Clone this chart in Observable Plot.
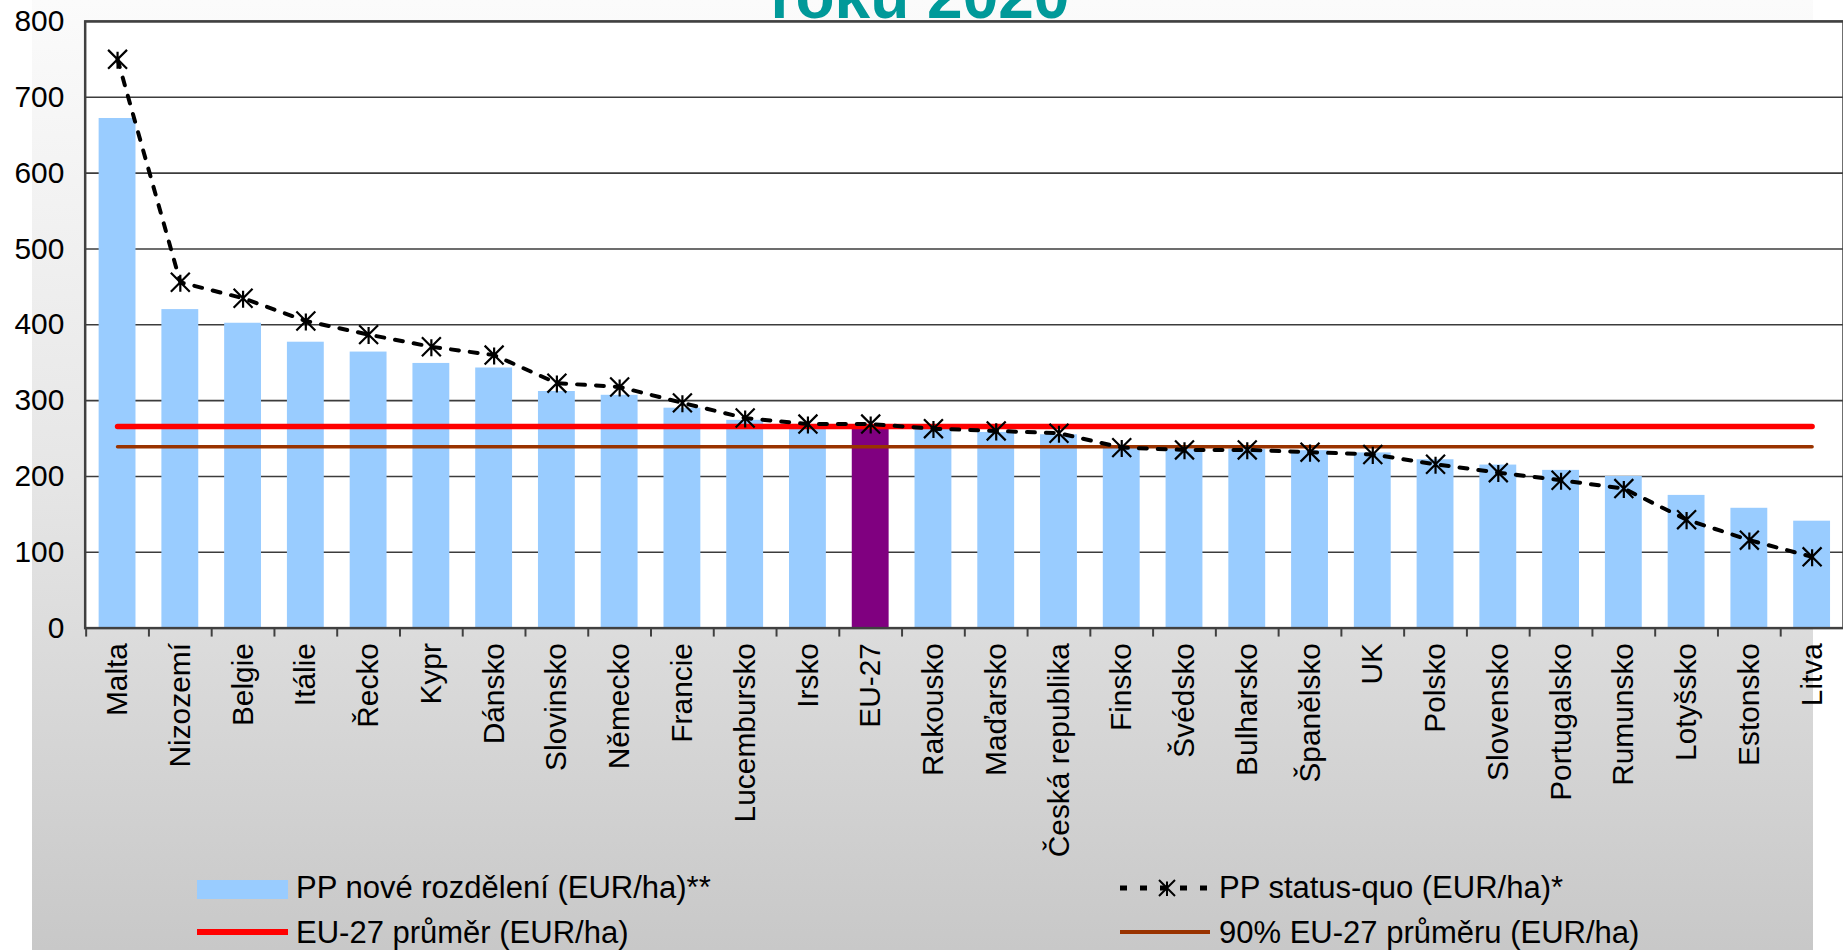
<!DOCTYPE html>
<html>
<head>
<meta charset="utf-8">
<script src="https://cdn.jsdelivr.net/npm/d3@7"></script>
<script src="https://cdn.jsdelivr.net/npm/@observablehq/plot@0.6"></script>
<style>
  html, body { margin: 0; padding: 0; overflow: hidden; background: #ffffff; }
  #wrap { position: relative; width: 1843px; height: 950px; overflow: hidden;
          font-family: 'Liberation Sans', Arial, sans-serif; }
  #panel { position: absolute; left: 32px; top: 0; width: 1781px; height: 950px;
           background: linear-gradient(#fbfbfb 0%, #e6e6e6 50%, #c8c8c8 100%); }
  #title { position: absolute; left: 620px; width: 600px; top: -36px; text-align: center;
           font: bold 64px/64px 'Liberation Sans', Arial, sans-serif; color: #009999; white-space: nowrap; }
  #chart { position: absolute; left: 0; top: 0; }
  .lg-text { position: absolute; font-size: 31px; line-height: 31px; color: #000; white-space: nowrap; }
  .lg-sw { position: absolute; }
</style>
</head>
<body>
<div id="wrap">
  <div id="panel"></div>
  <div id="chart"></div>
  <div id="title">roku 2020</div>
  <div id="legend"></div>
</div>
<script>
// ---- data ----
const categories = ["Malta","Nizozemí","Belgie","Itálie","Řecko","Kypr","Dánsko","Slovinsko","Německo","Francie","Lucembursko","Irsko","EU-27","Rakousko","Maďarsko","Česká republika","Finsko","Švédsko","Bulharsko","Španělsko","UK","Polsko","Slovensko","Portugalsko","Rumunsko","Lotyšsko","Estonsko","Litva"];
const newDistribution = [672, 420, 402, 377, 364, 349, 343, 312, 307, 290, 274, 264, 266, 262, 258, 255, 237, 236, 236, 234, 231, 222, 215, 208, 200, 175, 158, 141];
const statusQuo = [750, 456, 435, 405, 387, 371, 360, 323, 318, 297, 277, 269, 269, 263, 260, 257, 238, 235, 235, 232, 229, 216, 205, 195, 184, 143, 116, 94];
const euAverage = 266;
const euAverage90 = 239;
const yTicks = [0, 100, 200, 300, 400, 500, 600, 700, 800];
const seriesNames = ["PP nové rozdělení (EUR/ha)**", "PP status-quo (EUR/ha)*", "EU-27 průměr (EUR/ha)", "90% EU-27 průměru (EUR/ha)"];
const highlight = "EU-27";

// ---- styles ----
const BLUE = "#99ccff", PURPLE = "#800080", RED = "#ff0000", BROWN = "#993300", GRID = "#3c3c3c";

// Excel-like star marker: an X with a vertical bar
const starSymbol = {
  draw(context, size) {
    const r = Math.sqrt(size / Math.PI);
    context.moveTo(-r, -r); context.lineTo(r, r);
    context.moveTo(r, -r); context.lineTo(-r, r);
    context.moveTo(0, -r * 0.8); context.lineTo(0, r);
  }
};

const rows = categories.map((name, i) => ({
  name, value: newDistribution[i], sq: statusQuo[i],
  color: name === highlight ? PURPLE : BLUE
}));

const W = 1850, H = 870, ML = 85, MR = 0, MT = 21, MB = 240;
const step = (W - ML - MR) / categories.length;

const chart = Plot.plot({
  width: W, height: H,
  marginLeft: ML, marginRight: MR, marginTop: MT, marginBottom: MB,
  style: { fontFamily: "'Liberation Sans', Arial, sans-serif", fontSize: "30px", color: "#000", background: "transparent", overflow: "visible" },
  x: { domain: categories, padding: 0, label: null },
  y: { domain: [0, 800], label: null },
  color: { type: "identity" },
  marks: [
    Plot.frame({ fill: "white" }),
    Plot.ruleY(yTicks, { stroke: GRID, strokeWidth: 1.6 }),
    Plot.barY(rows, { x: "name", y: "value", fill: "color", insetLeft: 13, insetRight: 13 }),
    Plot.line(rows, { x: "name", y: () => euAverage, stroke: RED, strokeWidth: 5.5 }),
    Plot.line(rows, { x: "name", y: () => euAverage90, stroke: BROWN, strokeWidth: 3.5 }),
    Plot.line(rows, { x: "name", y: "sq", stroke: "#000", strokeWidth: 4, strokeDasharray: "8,11" }),
    Plot.dot(rows, { x: "name", y: "sq", symbol: starSymbol, r: 9.5, stroke: "#000", strokeWidth: 2.2 }),
    Plot.frame({ stroke: "#404040", strokeWidth: 2.5 }),
    Plot.axisY({ ticks: yTicks, tickSize: 0, tickPadding: 21, fontSize: 30 }),
    Plot.axisX({ tickSize: 9, fill: "none", stroke: "#404040", strokeWidth: 2, dx: -step / 2 }),
    Plot.axisX({ tickSize: 0, tickPadding: 15, tickRotate: -90, fontSize: 30 })
  ]
});
document.getElementById("chart").appendChild(chart);

// ---- legend ----
const legend = document.getElementById("legend");
function addText(txt, left, top) {
  const d = document.createElement("div");
  d.className = "lg-text";
  d.style.left = left + "px"; d.style.top = top + "px";
  d.textContent = txt;
  legend.appendChild(d);
}
function addBox(left, top, w, h, color) {
  const d = document.createElement("div");
  d.className = "lg-sw";
  Object.assign(d.style, { left: left + "px", top: top + "px", width: w + "px", height: h + "px", background: color });
  legend.appendChild(d);
}
addBox(197, 880, 91, 19, BLUE);
addText(seriesNames[0], 296, 872);
addBox(197, 929, 91, 6, RED);
addText(seriesNames[2], 296, 917);

// dashed + star swatch
const sw = d3.create("svg").attr("width", 92).attr("height", 30)
  .style("position", "absolute").style("left", "1118px").style("top", "873px");
sw.append("line").attr("x1", 2).attr("x2", 90).attr("y1", 15).attr("y2", 15)
  .attr("stroke", "#000").attr("stroke-width", 5).attr("stroke-dasharray", "7,13");
sw.append("path").attr("d", d3.symbol(starSymbol, Math.PI * 8 * 8)())
  .attr("transform", "translate(49,15)").attr("stroke", "#000").attr("stroke-width", 2).attr("fill", "none");
legend.appendChild(sw.node());
addText(seriesNames[1], 1219, 872);
addBox(1120, 930, 90, 4, BROWN);
addText(seriesNames[3], 1219, 917);
</script>
</body>
</html>
